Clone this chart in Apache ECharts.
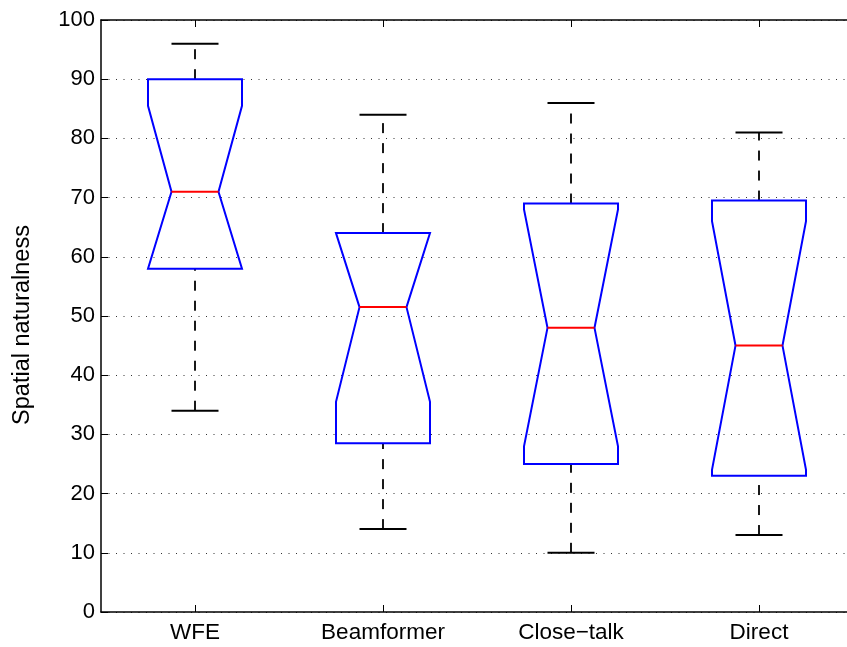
<!DOCTYPE html>
<html>
<head>
<meta charset="utf-8">
<script src="https://cdn.jsdelivr.net/npm/echarts@6/dist/echarts.min.js"></script>
<style>
html,body{margin:0;padding:0;background:#fff;}
#chart{width:847px;height:647px;}
</style>
</head>
<body>
<div id="chart"></div>
<script>
var categories = ['WFE', 'Beamformer', 'Close\u2212talk', 'Direct'];
var whiskerLow = [34, 14, 10, 13];
var q1 = [58, 28.5, 25, 23];
var median = [71, 51.5, 48, 45];
var q3 = [90, 64, 69, 69.5];
var whiskerHigh = [96, 84, 86, 81];
var notchLow = [56.5, 35.5, 28, 24];
var notchHigh = [85.5, 67.5, 68, 66];
var yTicks = [0, 10, 20, 30, 40, 50, 60, 70, 80, 90, 100];

var boxData = categories.map(function (c, i) {
  return [i, whiskerLow[i], q1[i], median[i], q3[i], whiskerHigh[i], notchLow[i], notchHigh[i]];
});

var FONT = 'Liberation Sans, Arial, Helvetica, sans-serif';

function renderBox(params, api) {
  var idx = api.value(0);
  var wlo = api.value(1), a = api.value(2), med = api.value(3), b = api.value(4),
      whi = api.value(5), nl = api.value(6), nh = api.value(7);
  nl = Math.max(nl, a); nh = Math.min(nh, b);
  var band = api.size([1, 0])[0];
  var hw = band * 0.25, iw = hw / 2, cw = band * 0.125;
  var cx = api.coord([idx, med])[0];
  function Y(v) { return api.coord([idx, v])[1]; }
  var yq1 = Y(a), yq3 = Y(b), ym = Y(med), ynl = Y(nl), ynh = Y(nh), ywl = Y(wlo), ywh = Y(whi);
  var L = cx - hw, R = cx + hw;
  var pts = [[L, yq3], [L, ynh], [cx - iw, ym], [L, ynl], [L, yq1],
             [R, yq1], [R, ynl], [cx + iw, ym], [R, ynh], [R, yq3]];
  var dashStyle = {stroke: '#000', lineWidth: 1.8, lineDash: [10, 10]};
  return {
    type: 'group',
    children: [
      {type: 'line', shape: {x1: cx, y1: yq3, x2: cx, y2: ywh}, style: dashStyle},
      {type: 'line', shape: {x1: cx, y1: ywl, x2: cx, y2: yq1}, style: dashStyle},
      {type: 'line', shape: {x1: cx - cw, y1: ywh, x2: cx + cw, y2: ywh}, style: {stroke: '#000', lineWidth: 2}},
      {type: 'line', shape: {x1: cx - cw, y1: ywl, x2: cx + cw, y2: ywl}, style: {stroke: '#000', lineWidth: 2}},
      {type: 'polygon', shape: {points: pts}, style: {fill: 'none', stroke: '#0000ff', lineWidth: 2}},
      {type: 'line', shape: {x1: cx - iw, y1: ym, x2: cx + iw, y2: ym}, style: {stroke: '#ff0000', lineWidth: 2}}
    ]
  };
}

var chart = echarts.init(document.getElementById('chart'), null, {renderer: 'canvas'});
chart.setOption({
  animation: false,
  backgroundColor: '#fff',
  grid: {left: 101, right: -6, top: 20, bottom: 35, containLabel: false, outerBoundsMode: 'none'},
  xAxis: [{
    type: 'category',
    data: categories,
    position: 'bottom',
    boundaryGap: true,
    axisLine: {lineStyle: {color: '#000', width: 1.5}},
    axisTick: {show: true, alignWithLabel: true, inside: true, length: 7, lineStyle: {color: '#000', width: 1}},
    axisLabel: {color: '#000', fontSize: 22.5, fontFamily: FONT, margin: 9},
    splitLine: {show: false}
  }, {
    type: 'category',
    data: categories,
    position: 'top',
    boundaryGap: true,
    axisLine: {lineStyle: {color: '#000', width: 1.5}},
    axisTick: {show: true, alignWithLabel: true, inside: true, length: 7, lineStyle: {color: '#000', width: 1}},
    axisLabel: {show: false},
    splitLine: {show: false}
  }],
  yAxis: {
    type: 'value',
    min: yTicks[0],
    max: yTicks[yTicks.length - 1],
    interval: 10,
    name: 'Spatial naturalness',
    nameLocation: 'middle',
    nameGap: 66,
    nameTextStyle: {color: '#000', fontSize: 23.5, fontFamily: FONT, padding: [0, 18, 0, 0]},
    axisLine: {show: true, lineStyle: {color: '#000', width: 1.5}},
    axisTick: {show: true, inside: true, length: 7, lineStyle: {color: '#000', width: 1}},
    axisLabel: {color: '#000', fontSize: 22, fontFamily: FONT, margin: 6},
    splitLine: {show: true, lineStyle: {color: '#333', width: 1, type: [1, 6.5]}}
  },
  series: [{
    type: 'custom',
    renderItem: renderBox,
    data: boxData,
    encode: {x: 0, y: [1, 2, 3, 4, 5]},
    clip: false,
    z: 3
  }]
});
</script>
</body>
</html>
